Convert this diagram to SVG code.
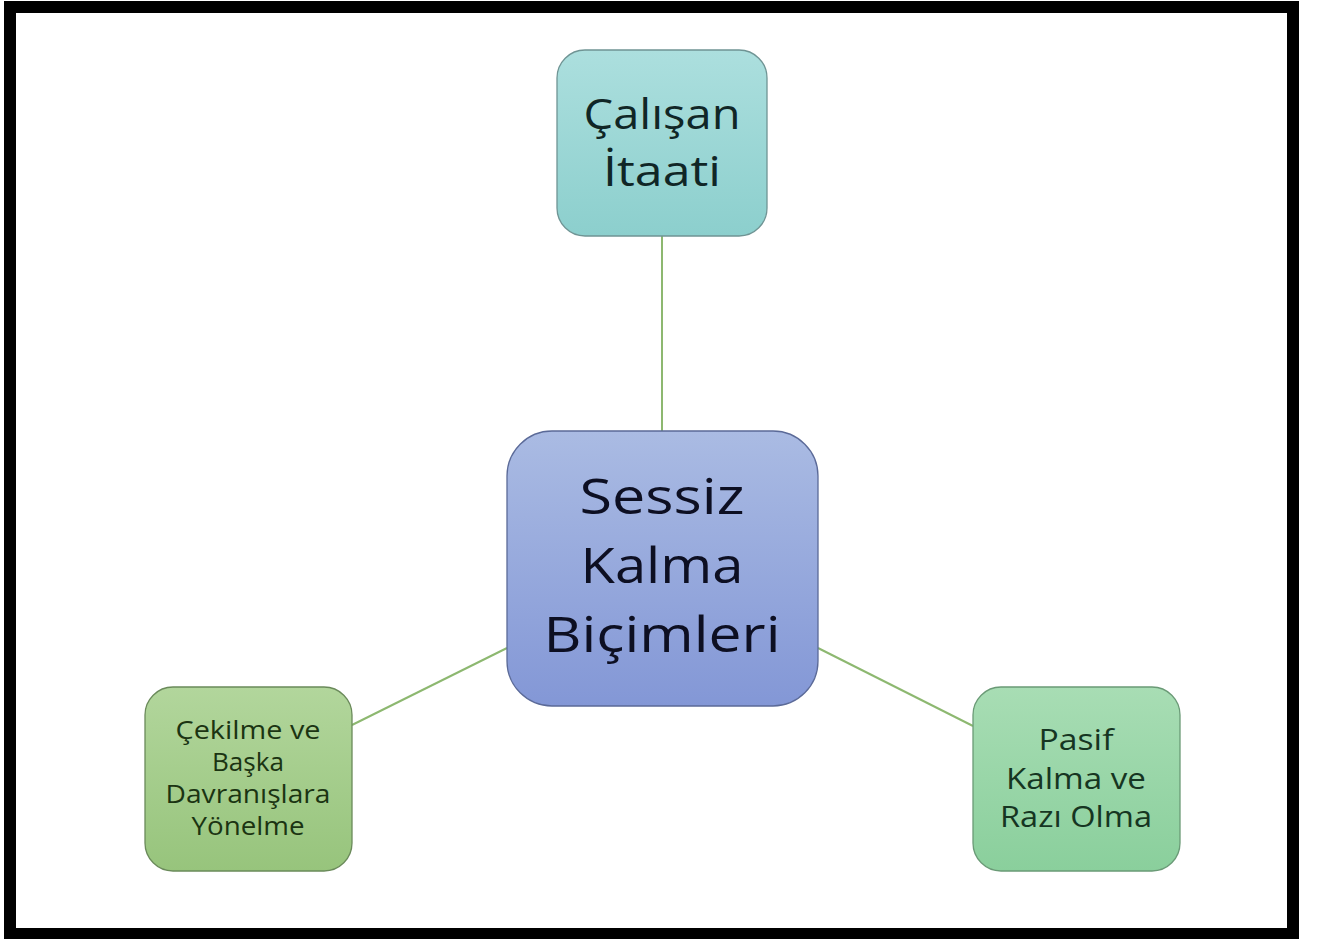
<svg xmlns="http://www.w3.org/2000/svg" width="1321" height="939" viewBox="0 0 1321 939">
<style>
.frame{fill:#ffffff;stroke:#000000;stroke-width:12}
.conn{stroke:#8db870;stroke-width:2;fill:none}
.box{stroke-width:1.3}
.t{font-family:"Open Sans","Noto Sans","DejaVu Sans",sans-serif;text-anchor:middle}
</style>
<defs>
<linearGradient id="gTop" x1="0" y1="0" x2="0" y2="1"><stop offset="0" stop-color="#acdfde"/><stop offset="1" stop-color="#8ccfcd"/></linearGradient>
<linearGradient id="gCenter" x1="0" y1="0" x2="0" y2="1"><stop offset="0" stop-color="#aabbe3"/><stop offset="1" stop-color="#8397d6"/></linearGradient>
<linearGradient id="gLeft" x1="0" y1="0" x2="0" y2="1"><stop offset="0" stop-color="#b2d69c"/><stop offset="1" stop-color="#97c47c"/></linearGradient>
<linearGradient id="gRight" x1="0" y1="0" x2="0" y2="1"><stop offset="0" stop-color="#a8ddb4"/><stop offset="1" stop-color="#8acf9c"/></linearGradient>
</defs>
<rect class="frame" x="10" y="7" width="1283" height="927"/>
<g id="connectors">
<line class="conn" x1="662" y1="236" x2="662" y2="431"/>
<line class="conn" x1="352" y1="725" x2="507" y2="648"/>
<line class="conn" x1="818" y1="648" x2="973" y2="726"/>
</g>
<g id="node-top">
<rect class="box" x="557" y="50" width="210" height="186" rx="28" fill="url(#gTop)" stroke="#6f9494"/>
<text class="t" font-size="42" fill="#102626"><tspan x="662" y="129" textLength="157" lengthAdjust="spacingAndGlyphs">Çalışan</tspan><tspan x="662" y="186" textLength="118" lengthAdjust="spacingAndGlyphs">İtaati</tspan></text>
</g>
<g id="node-center">
<rect class="box" x="507" y="431" width="311" height="275" rx="45" fill="url(#gCenter)" stroke="#5b6a98"/>
<text class="t" font-size="50" fill="#0d0f22"><tspan x="662" y="514" textLength="165" lengthAdjust="spacingAndGlyphs">Sessiz</tspan><tspan x="662" y="583" textLength="163" lengthAdjust="spacingAndGlyphs">Kalma</tspan><tspan x="662" y="652" textLength="237" lengthAdjust="spacingAndGlyphs">Biçimleri</tspan></text>
</g>
<g id="node-left">
<rect class="box" x="145" y="687" width="207" height="184" rx="28" fill="url(#gLeft)" stroke="#6a8a5a"/>
<text class="t" font-size="25" fill="#1b3412"><tspan x="248" y="739" textLength="145" lengthAdjust="spacingAndGlyphs">Çekilme ve</tspan><tspan x="248" y="771" textLength="72" lengthAdjust="spacingAndGlyphs">Başka</tspan><tspan x="248" y="803" textLength="165" lengthAdjust="spacingAndGlyphs">Davranışlara</tspan><tspan x="248" y="835" textLength="113" lengthAdjust="spacingAndGlyphs">Yönelme</tspan></text>
</g>
<g id="node-right">
<rect class="box" x="973" y="687" width="207" height="184" rx="28" fill="url(#gRight)" stroke="#6a9a76"/>
<text class="t" font-size="29" fill="#163522"><tspan x="1076" y="750" textLength="75" lengthAdjust="spacingAndGlyphs">Pasif</tspan><tspan x="1076" y="789" textLength="140" lengthAdjust="spacingAndGlyphs">Kalma ve</tspan><tspan x="1076" y="827" textLength="152" lengthAdjust="spacingAndGlyphs">Razı Olma</tspan></text>
</g>
</svg>
